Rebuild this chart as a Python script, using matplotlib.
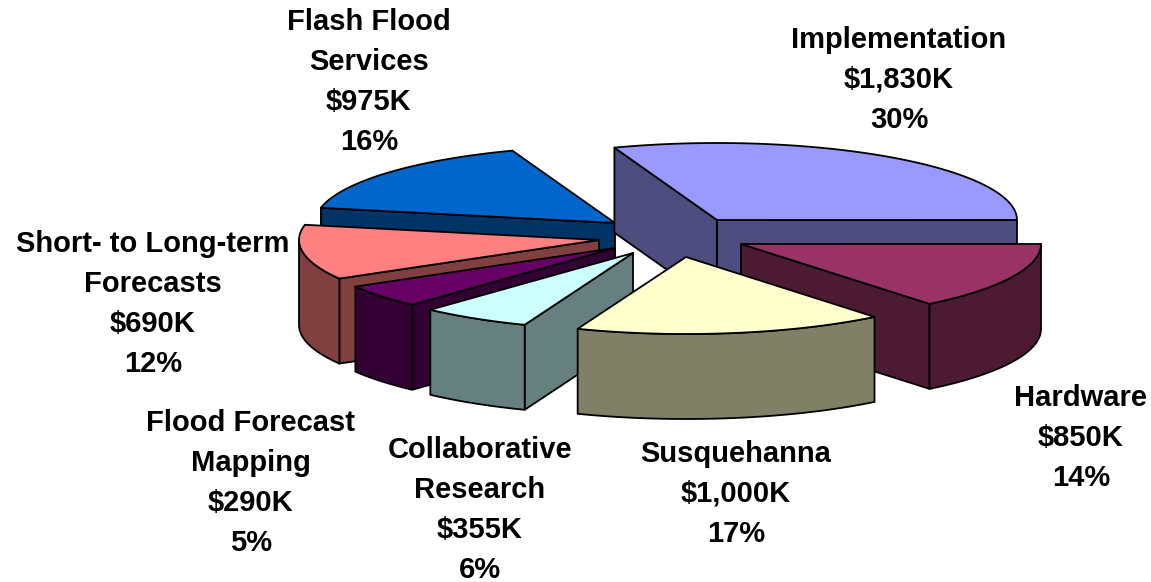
"""Exploded 3D-look pie chart of the budget, drawn as flat polygons."""

import numpy as np
import matplotlib
matplotlib.use("Agg")
import matplotlib.pyplot as plt
from matplotlib.patches import Polygon

names = ["Implementation", "Hardware", "Susquehanna", "Collaborative\nResearch",
         "Flood Forecast\nMapping", "Short- to Long-term\nForecasts", "Flash Flood\nServices"]
values = [1830, 850, 1000, 355, 290, 690, 975]
percents = [30, 14, 17, 6, 5, 12, 16]

top_colors = ["#9999FF", "#993366", "#FFFFCC", "#CCFFFF", "#660066", "#FF8080", "#0066CC"]
side_colors = ["#4D4D80", "#4D1A33", "#808066", "#668080", "#330033", "#804040", "#003366"]

# ── Layout, in pixels of the 1151x582 picture ────────────────────────────────
RX, RY = 300, 77     # ellipse of the top face
DEPTH = 85           # height of the walls
START_ANGLE = 110.0  # first slice starts here and runs clockwise
apex_x = [717, 741, 686, 633, 615, 599, 615]
apex_y = [220, 244, 257, 253, 248, 240, 223]
label_x = [899, 1081, 736, 480, 251, 153, 369]
label_y = [80, 438, 494, 510, 483, 304, 82]
draw_order = [6, 0, 1, 5, 4, 3, 2]


def rim(i, a, b):
    t = np.radians(np.linspace(a, b, 80))
    return np.column_stack([apex_x[i] + RX * np.cos(t), apex_y[i] - RY * np.sin(t)])


def wall(rim_pts):
    # extrude an edge straight down
    return np.vstack([rim_pts, rim_pts[::-1] + [0, DEPTH]])


def draw_slice(ax, i, a, b):
    apex = np.array([[apex_x[i], apex_y[i]]], dtype=float)
    kw = dict(facecolor=side_colors[i], edgecolor="black", linewidth=1.3, joinstyle="round")

    # radial walls, only the ones turned towards the viewer
    for ang, normal in ((a, a + 90), (b, b - 90)):
        if np.sin(np.radians(normal)) < 0:
            edge = np.vstack([apex, rim(i, ang, ang)[:1]])
            ax.add_patch(Polygon(wall(edge), **kw))

    # outer wall, front half of the ellipse only
    lo, hi = b, a
    for k in range(-1, 1):
        s, e = max(lo, -180 + 360 * k), min(hi, 360 * k)
        if s < e:
            ax.add_patch(Polygon(wall(rim(i, s, e)), **kw))

    top = np.vstack([apex, rim(i, a, b)])
    ax.add_patch(Polygon(top, facecolor=top_colors[i], edgecolor="black",
                         linewidth=1.3, joinstyle="round"))


def main():
    plt.rcParams["font.family"] = ["Liberation Sans", "DejaVu Sans"]
    fig = plt.figure(figsize=(11.51, 5.82), dpi=100)
    ax = fig.add_axes([0, 0, 1, 1])
    ax.set_xlim(0, 1151)
    ax.set_ylim(582, 0)
    ax.axis("off")

    sweep = np.array(values) / sum(values) * 360
    ends = START_ANGLE - np.cumsum(sweep)
    starts = ends + sweep

    for i in draw_order:
        draw_slice(ax, i, starts[i], ends[i])

    for i, name in enumerate(names):
        ax.text(label_x[i], label_y[i], f"{name}\n${values[i]:,}K\n{percents[i]}%",
                ha="center", va="center", fontsize=21, fontweight="bold",
                linespacing=1.55, color="black")

    fig.savefig("out.png", dpi=100)
    plt.close(fig)


if __name__ == "__main__":
    main()
